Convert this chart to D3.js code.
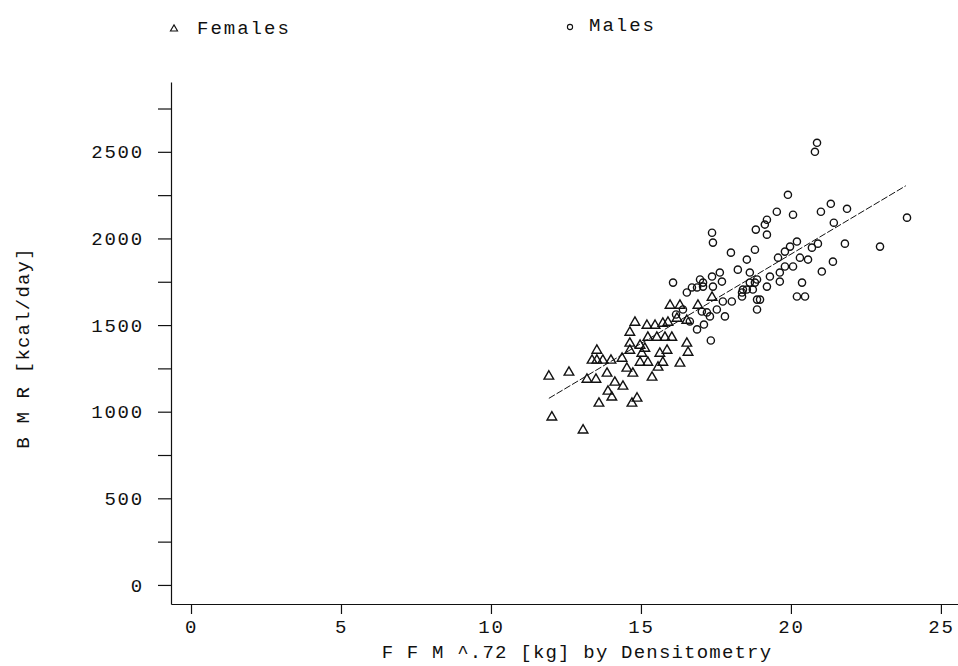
<!DOCTYPE html>
<html>
<head>
<meta charset="utf-8">
<script src="https://cdn.jsdelivr.net/npm/d3@7"></script>
<style>
  html, body { margin: 0; padding: 0; background: #fff; }
  #chart { width: 958px; height: 666px; }
  text { font-family: "Liberation Mono", "DejaVu Sans Mono", monospace; fill: #111; }
</style>
</head>
<body>
<div id="chart"></div>
<script>
// Fat-free mass^0.72 (kg) and BMR (kcal/day)
const femalesFfm = [11.93, 12.6, 12.03, 13.07, 13.53, 13.53, 13.37, 13.73, 14.0, 13.2, 13.5, 13.87, 14.13, 14.4,
  13.9, 14.03, 13.6, 14.7, 14.87, 14.73, 14.53, 14.37, 14.63, 14.63, 14.8, 14.63, 14.97, 15.23, 15.03, 15.37,
  15.57, 15.73, 15.63, 15.87, 16.3, 16.57, 16.53, 15.23, 15.53, 15.8, 16.03, 15.2, 15.47, 15.73, 15.9, 16.2,
  15.97, 16.3, 16.9, 16.53, 14.97, 15.13, 17.37];
const femalesBmr = [1210, 1233, 974, 899, 1359, 1302, 1302, 1302, 1302, 1192, 1192, 1227, 1175, 1152,
  1123, 1089, 1054, 1054, 1083, 1227, 1256, 1313, 1400, 1359, 1521, 1463, 1290, 1290, 1342, 1204,
  1262, 1290, 1342, 1359, 1285, 1348, 1400, 1434, 1434, 1434, 1434, 1503, 1503, 1515, 1521, 1544,
  1619, 1619, 1619, 1532, 1388, 1371, 1665];

const malesFfm = [17.37, 17.4, 18.0, 18.53, 18.83, 18.8, 16.07, 16.97, 17.37, 17.63, 17.7, 18.23, 18.63, 16.7,
  16.87, 17.07, 17.4, 17.73, 18.03, 18.37, 18.63, 18.87, 18.73, 18.4, 18.87, 18.87, 17.03, 17.53, 17.3, 16.4,
  16.53, 20.87, 20.8, 19.9, 19.53, 20.07, 19.2, 19.13, 19.2, 21.0, 21.33, 21.87, 21.43, 23.87, 21.8, 22.97,
  20.9, 20.7, 20.2, 19.97, 19.8, 21.4, 21.03, 20.37, 20.2, 20.47, 19.57, 20.3, 20.57, 19.8, 20.07, 19.63,
  19.3, 19.2, 19.63, 18.8, 18.53, 18.37, 18.97, 17.07, 17.2, 17.8, 16.63, 16.87, 17.33, 16.17, 17.1];
const malesBmr = [2033, 1976, 1918, 1878, 2051, 1935, 1745, 1763, 1780, 1803, 1751, 1820, 1803, 1717,
  1717, 1722, 1722, 1636, 1636, 1665, 1745, 1763, 1705, 1705, 1647, 1590, 1578, 1590, 1550, 1590,
  1688, 2552, 2500, 2252, 2154, 2137, 2108, 2080, 2022, 2154, 2200, 2171, 2091, 2120, 1970, 1953,
  1970, 1947, 1982, 1953, 1924, 1866, 1809, 1745, 1665, 1665, 1889, 1889, 1878, 1838, 1838, 1803,
  1780, 1722, 1751, 1745, 1705, 1688, 1647, 1745, 1573, 1550, 1521, 1475, 1411, 1561, 1503];

// regression line end points
const fitFfm = [11.93, 23.83];
const fitBmr = [1077, 2304];

const xTicks = [0, 5, 10, 15, 20, 25];
const yTicks = [0, 250, 500, 750, 1000, 1250, 1500, 1750, 2000, 2250, 2500, 2750];

function draw() {
  d3.select("#chart").selectAll("svg").remove();

  const w = 958, h = 666;

  const svg = d3.select("#chart")
    .append("svg")
    .attr("width", w)
    .attr("height", h)
    .attr("viewBox", `0 0 ${w} ${h}`);

  const xScale = d3.scaleLinear().domain([-0.667, 25.57]).range([171, 958]);
  const yScale = d3.scaleLinear().domain([-110, 2903]).range([604, 82]);

  svg.append("g")
    .attr("transform", `translate(0, ${yScale.range()[0]})`)
    .call(d3.axisBottom(xScale).tickValues(xTicks).tickSize(10).tickSizeOuter(0).tickPadding(6));

  svg.append("g")
    .attr("transform", `translate(${xScale.range()[0]}, 0)`)
    .call(d3.axisLeft(yScale).tickValues(yTicks).tickSize(13).tickSizeOuter(0).tickPadding(14)
      .tickFormat(d => d % 500 === 0 ? d : ""));

  svg.selectAll(".domain, .tick line").attr("stroke", "#111").attr("stroke-width", 1.2);
  svg.selectAll(".tick text")
    .attr("font-family", "Liberation Mono, monospace")
    .attr("font-size", 19)
    .attr("letter-spacing", 1.8)
    .attr("fill", "#111");

  // axis titles
  svg.append("text")
    .attr("x", 577)
    .attr("y", 658)
    .attr("text-anchor", "middle")
    .attr("font-size", 19)
    .attr("letter-spacing", 1.2)
    .text("F F M ^.72 [kg] by Densitometry");

  svg.append("text")
    .attr("transform", "translate(29, 348) rotate(-90)")
    .attr("text-anchor", "middle")
    .attr("font-size", 19)
    .attr("letter-spacing", 1.2)
    .text("B M R [kcal/day]");

  // fitted line
  svg.append("line")
    .attr("x1", xScale(fitFfm[0]))
    .attr("y1", yScale(fitBmr[0]))
    .attr("x2", xScale(fitFfm[1]))
    .attr("y2", yScale(fitBmr[1]))
    .attr("stroke", "#111")
    .attr("stroke-width", 1)
    .attr("stroke-dasharray", "7,2");

  const tri = d3.symbol().type(d3.symbolTriangle).size(40);

  svg.append("g")
    .selectAll("path")
    .data(femalesFfm)
    .join("path")
    .attr("d", tri)
    .attr("transform", (d, i) => `translate(${xScale(d)}, ${yScale(femalesBmr[i]) + 1})`)
    .attr("fill", "none")
    .attr("stroke", "#111")
    .attr("stroke-width", 1.4);

  svg.append("g")
    .selectAll("circle")
    .data(malesFfm)
    .join("circle")
    .attr("cx", d => xScale(d))
    .attr("cy", (d, i) => yScale(malesBmr[i]))
    .attr("r", 3.6)
    .attr("fill", "none")
    .attr("stroke", "#111")
    .attr("stroke-width", 1.4);

  // legend
  svg.append("path")
    .attr("d", d3.symbol().type(d3.symbolTriangle).size(22))
    .attr("transform", "translate(174, 29)")
    .attr("fill", "none")
    .attr("stroke", "#111")
    .attr("stroke-width", 1.1);
  svg.append("text")
    .attr("x", 197)
    .attr("y", 34)
    .attr("font-size", 19)
    .attr("letter-spacing", 2)
    .text("Females");

  svg.append("circle")
    .attr("cx", 570)
    .attr("cy", 27)
    .attr("r", 2.6)
    .attr("fill", "none")
    .attr("stroke", "#111")
    .attr("stroke-width", 1.1);
  svg.append("text")
    .attr("x", 589)
    .attr("y", 31)
    .attr("font-size", 19)
    .attr("letter-spacing", 2)
    .text("Males");
}

draw();
</script>
</body>
</html>
